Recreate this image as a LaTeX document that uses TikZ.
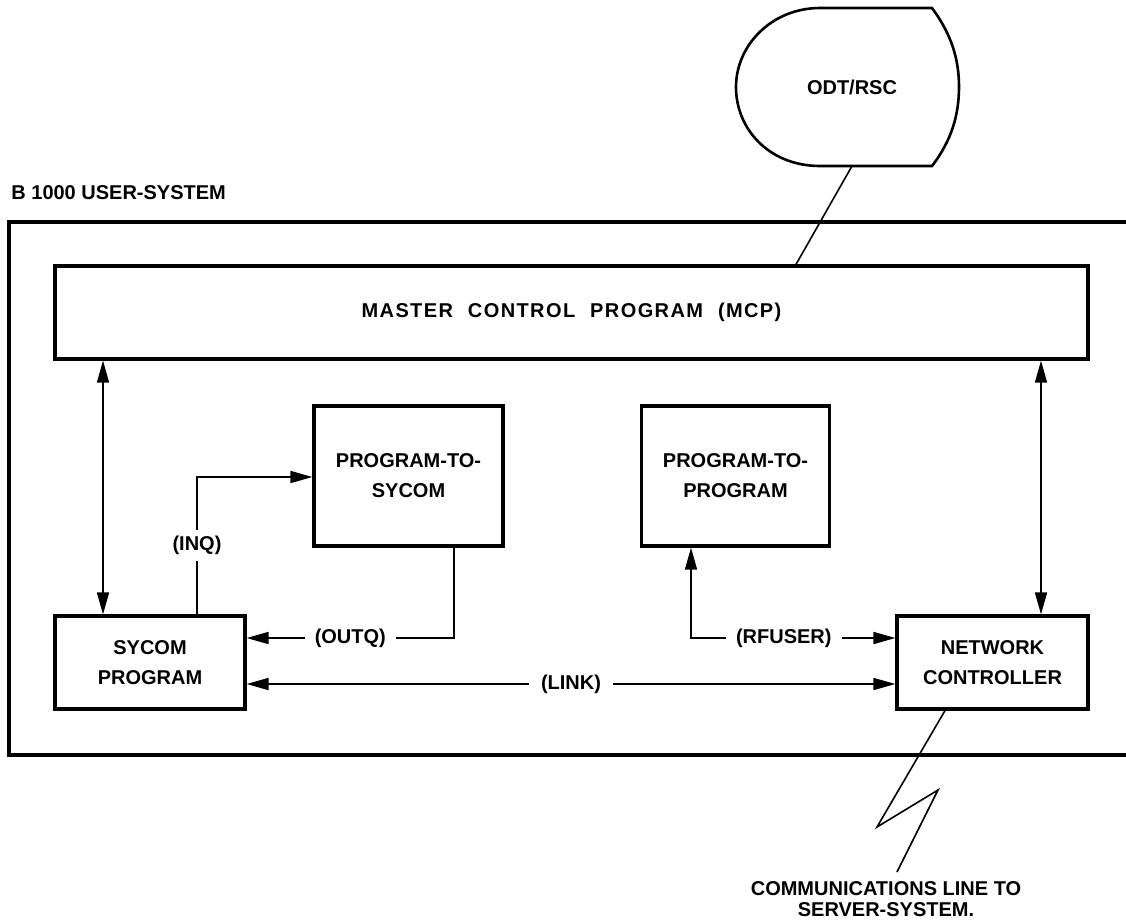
\documentclass[tikz,border=0pt]{standalone}
\usepackage{fontspec}
\setmainfont{Liberation Sans}
\usetikzlibrary{arrows.meta}
\begin{document}
\begin{tikzpicture}[x=0.5pt,y=-0.5pt,
  every node/.style={font=\fontsize{10}{15}\selectfont\bfseries},
  box/.style={draw, line width=1.6pt, inner sep=0pt, align=center},
  wire/.style={line width=0.8pt},
  onehead/.style={-{Triangle[length=11pt,width=6pt]}},
  twoheads/.style={{Triangle[length=11pt,width=6pt]}-{Triangle[length=11pt,width=6pt]}},
  lbl/.style={fill=white, inner xsep=5pt, inner ysep=3pt},
]
\useasboundingbox (0,0) rectangle (1126,923);

% system frame, open towards the right edge
\node[anchor=west, inner sep=0pt] (title) at (11,193) {B 1000 USER-SYSTEM};
\draw[line width=1.6pt] (1126,222) -- (9,222) -- (9,755) -- (1126,755);

% operator display terminal
\draw[line width=1.3pt] (820,8) -- (932,8)
  .. controls (952,35) and (959,60) .. (959,87)
  .. controls (959,114) and (952,140) .. (932,166)
  -- (820,166)
  .. controls (770,166) and (736,130) .. (736,87)
  .. controls (736,45) and (772,8) .. (820,8);
\node (odt) at (852,87) {ODT/RSC};
\coordinate (odtfoot) at (852,166);

% program boxes
\node[box, minimum width=516.5pt, minimum height=46.5pt] (mcp) at (571.5,312.5)
  {\addfontfeature{LetterSpace=7}MASTER\hspace{4pt} CONTROL\hspace{4pt} PROGRAM\hspace{4pt} (MCP)};
\node[box, minimum width=95pt, minimum height=46.5pt] (sycom) at (150,662.5) {SYCOM\\PROGRAM};
\node[box, minimum width=94.5pt, minimum height=70pt] (p2s) at (408.5,476) {PROGRAM-TO-\\SYCOM};
\node[box, minimum width=94pt, minimum height=70pt] (p2p) at (735.5,476) {PROGRAM-TO-\\PROGRAM};
\node[box, minimum width=95.5pt, minimum height=46.5pt] (nc) at (992.5,662.5) {NETWORK\\CONTROLLER};

% routing helpers
\coordinate (lx) at (103,0);
\coordinate (rx) at (1041,0);
\coordinate (tapx) at (796,0);
\coordinate (inq) at (197,477);
\coordinate (outq) at (454,638);
\coordinate (rfuser) at (691,638);
\coordinate (link) at (0,684);
\coordinate (boltx) at (945,0);
\coordinate (z1) at (877,827);
\coordinate (z2) at (938,790);
\coordinate (z3) at (897,872);

% connectors
\draw[wire] (odtfoot) -- (mcp.north -| tapx);
\draw[wire, twoheads] (mcp.south -| lx) -- (sycom.north -| lx);
\draw[wire, twoheads] (mcp.south -| rx) -- (nc.north -| rx);
\draw[wire, onehead] (sycom.north -| inq) |- node[lbl, pos=0.25] {(INQ)} (p2s.west |- inq);
\draw[wire, onehead] (p2s.south -| outq) |- node[lbl, pos=0.75] {(OUTQ)} (sycom.east |- outq);
\draw[wire, twoheads] (p2p.south -| rfuser) |- node[lbl, pos=0.727] {(RFUSER)} (nc.west |- rfuser);
\draw[wire, twoheads] (sycom.east |- link) -- node[lbl, inner xsep=6pt] {(LINK)} (nc.west |- link);

% communications line to the server system
\node[align=center, font=\fontsize{10}{10.5}\selectfont\bfseries, anchor=north] (comm) at (886,874) {COMMUNICATIONS LINE TO\\SERVER-SYSTEM.};
\draw[wire] (nc.south -| boltx) -- (z1) -- (z2) -- (z3);
\end{tikzpicture}
\end{document}
